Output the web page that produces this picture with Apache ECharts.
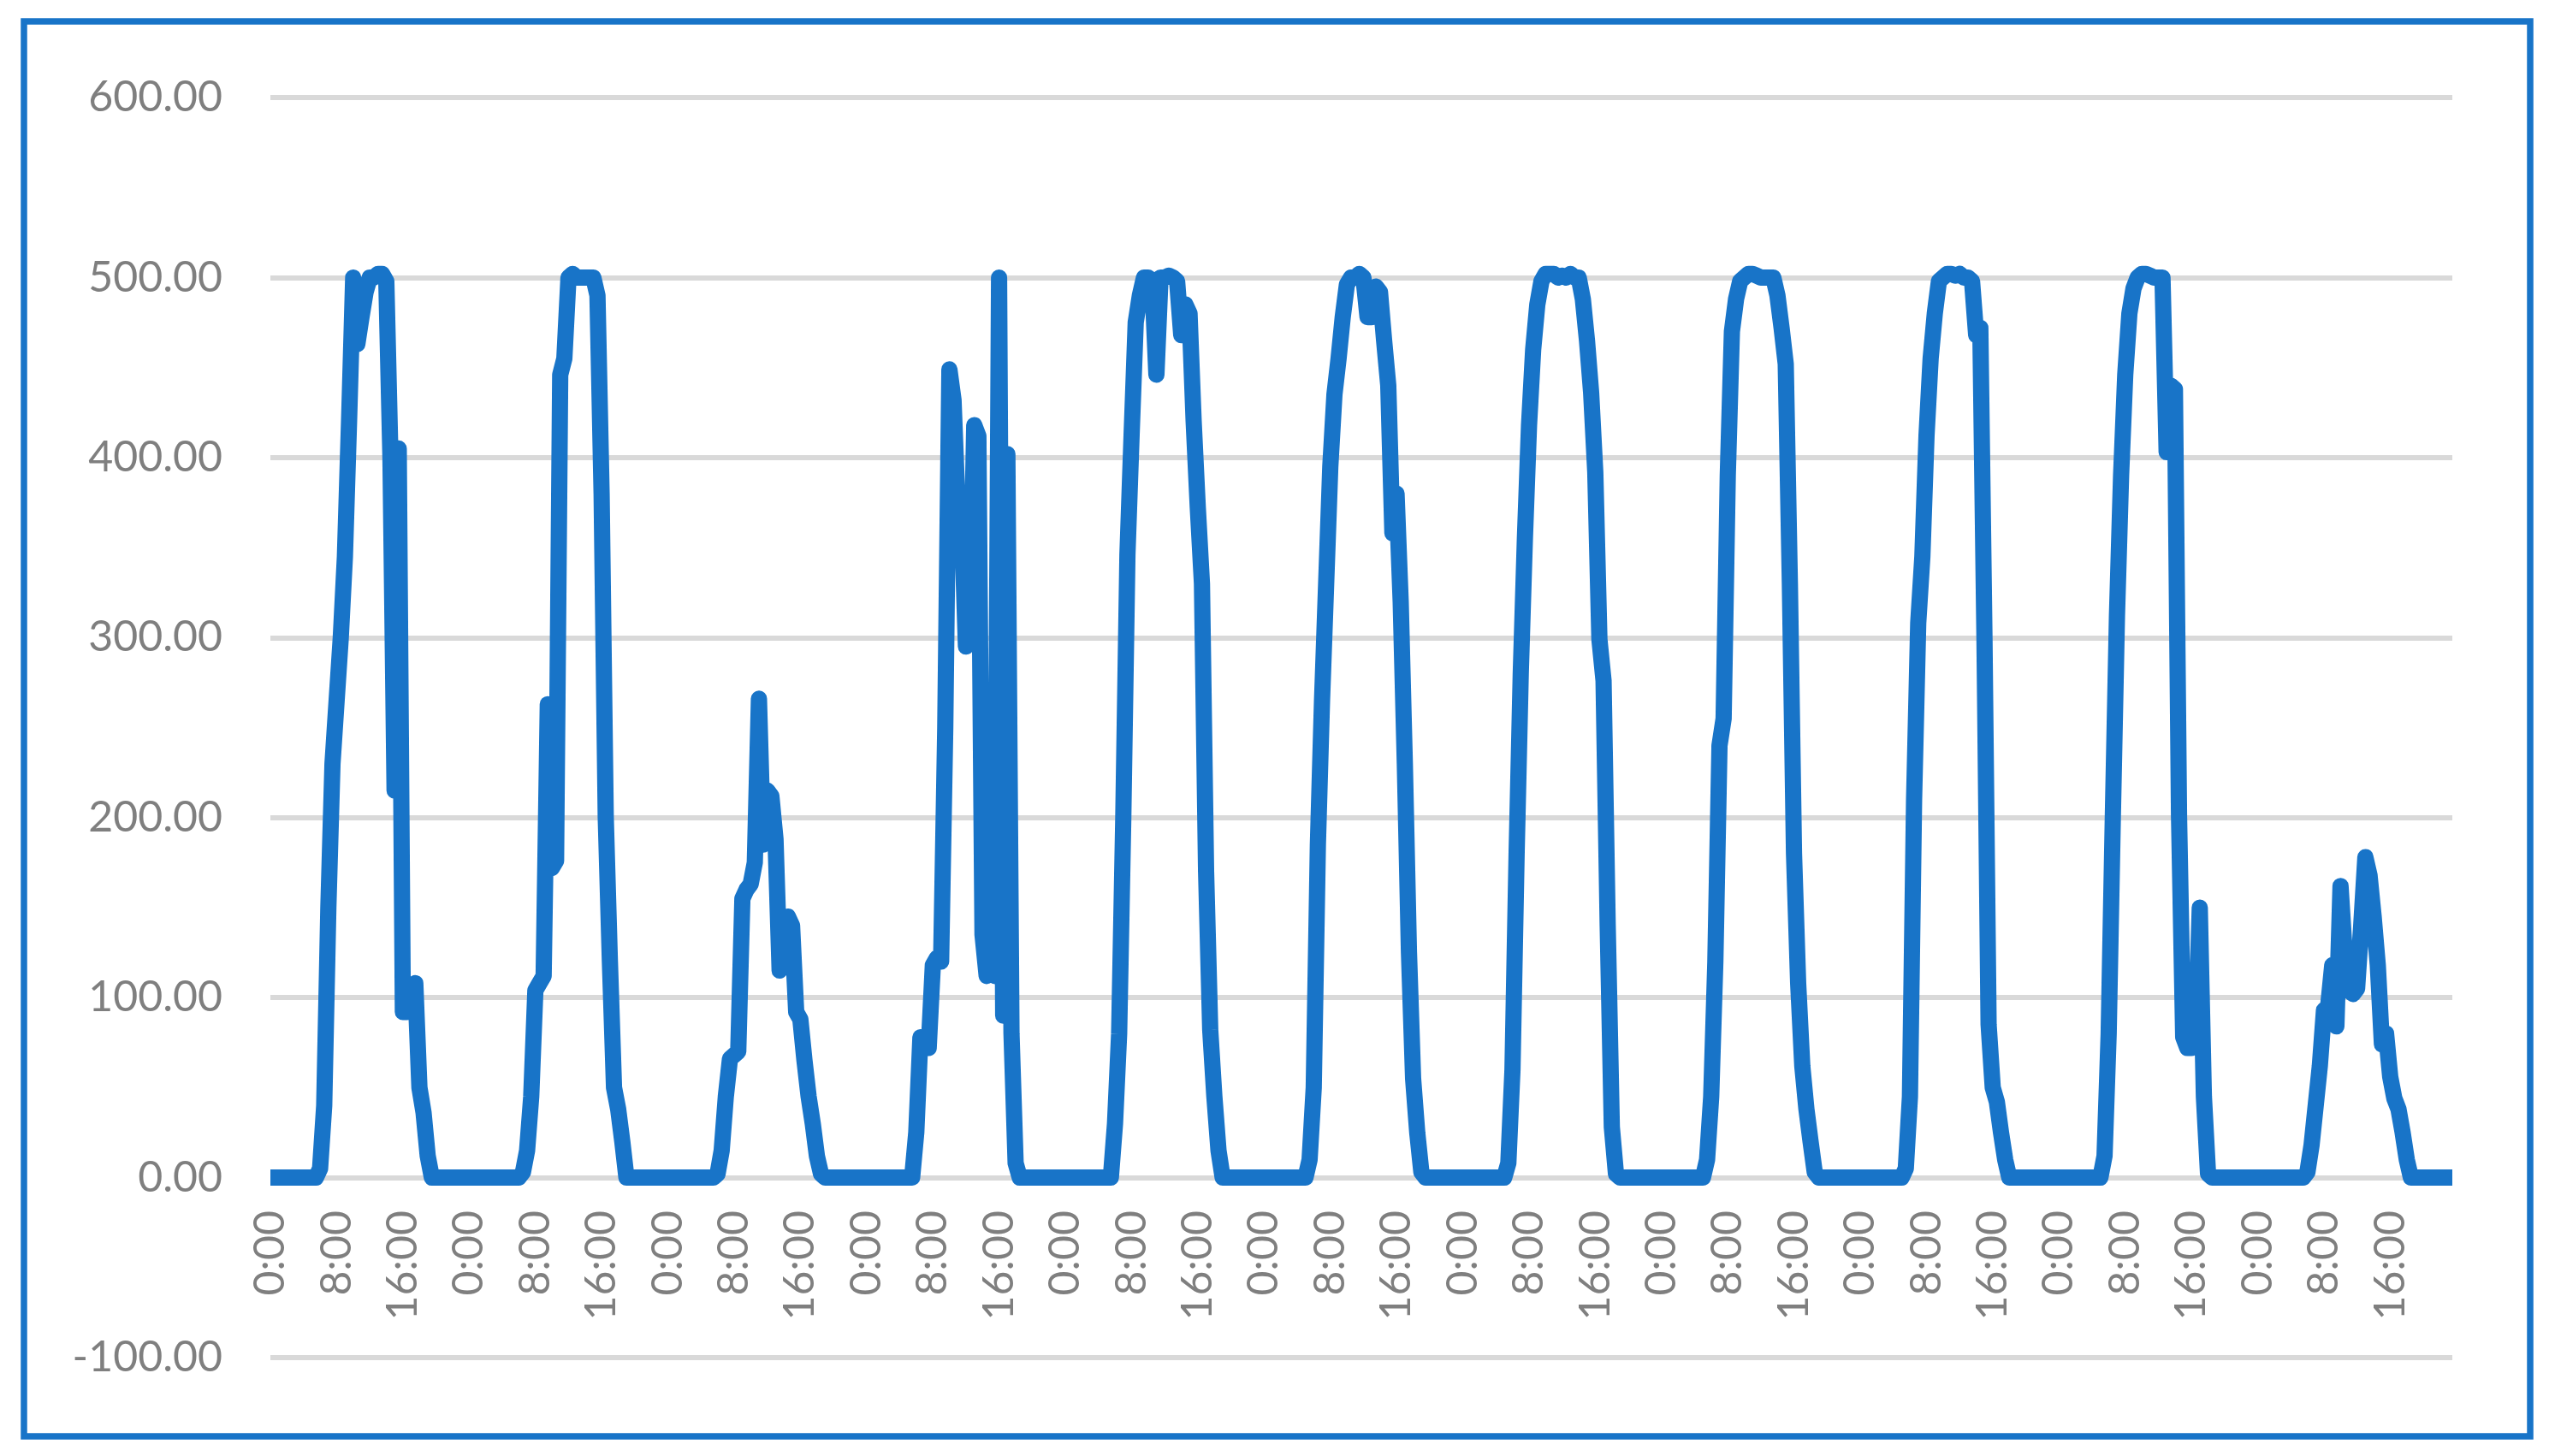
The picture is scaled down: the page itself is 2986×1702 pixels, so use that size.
<!DOCTYPE html>
<html><head><meta charset="utf-8">
<script src="https://cdn.jsdelivr.net/npm/echarts@6/dist/echarts.min.js"></script>
<style>html,body{margin:0;padding:0;background:#fff}#c{width:2986px;height:1702px}</style>
</head><body><div id="c"></div>
<script>
const timeLabels = ['0:00','0:30','1:00','1:30','2:00','2:30','3:00','3:30','4:00','4:30','5:00','5:30',
  '6:00','6:30','7:00','7:30','8:00','8:30','9:00','9:30','10:00','10:30','11:00','11:30',
  '12:00','12:30','13:00','13:30','14:00','14:30','15:00','15:30','16:00','16:30','17:00','17:30',
  '18:00','18:30','19:00','19:30','20:00','20:30','21:00','21:30','22:00','22:30','23:00','23:30'];

const day1 = [0,0,0,0,0,0,0,0,0,0,0,0, 5,40,150,230,265,300,345,420,500,463,478,492,500,500,502,502,498,400,215,405,92,92,100,108,50,36,12, 0,0,0,0,0,0,0,0,0];
const day2 = [0,0,0,0,0,0,0,0,0,0,0,0,0, 3,15,45,104,108,112,263,172,176,446,455,500,502,500,500,500,500,500,490,380,200,120,50,38,20,0, 0,0,0,0,0,0,0,0,0];
const day3 = [0,0,0,0,0,0,0,0,0,0,0,0, 2,15,45,66,68,70,155,160,163,175,266,185,215,212,188,115,118,145,140,92,88,65,45,30,12,2, 0,0,0,0,0,0,0,0,0,0];
const day4 = [0,0,0,0,0,0,0,0,0,0,0,0, 25,78,76,72,118,122,120,250,449,432,372,365,295,300,418,412,135,112,114,112,500,90,402,80,8, 0,0,0,0,0,0,0,0,0,0,0];
const day5 = [0,0,0,0,0,0,0,0,0,0,0,0, 30,80,200,346,412,475,490,500,500,498,446,500,500,501,500,498,468,485,480,420,372,330,170,82,45,15, 0,0,0,0,0,0,0,0,0,0];
const day6 = [0,0,0,0,0,0,0,0,0,0,0, 10,50,185,265,330,395,435,455,478,496,500,500,502,500,478,478,495,492,465,440,358,380,320,230,125,55,25,3, 0,0,0,0,0,0,0,0,0];
const day7 = [0,0,0,0,0,0,0,0,0,0,0, 8,60,180,280,355,418,460,485,498,502,502,502,500,501,500,502,500,500,488,465,436,392,299,276,140,28,2, 0,0,0,0,0,0,0,0,0,0];
const day8 = [0,0,0,0,0,0,0,0,0,0,0, 10,45,120,240,255,390,470,488,498,500,502,502,501,500,500,500,500,490,472,452,330,180,108,62,38,20,3, 0,0,0,0,0,0,0,0,0,0];
const day9 = [0,0,0,0,0,0,0,0,0,0,0, 5,45,210,308,345,412,455,480,498,500,502,502,501,502,500,500,498,468,472,300,85,50,42,25,10, 0,0,0,0,0,0,0,0,0,0,0,0];
const day10 = [0,0,0,0,0,0,0,0,0,0,0, 12,80,200,312,390,446,480,494,500,502,502,501,500,500,500,403,440,438,200,78,72,72,75,150,45,2, 0,0,0,0,0,0,0,0,0,0,0];
const day11 = [0,0,0,0,0,0,0,0,0,0,0,0, 3,18,40,62,93,95,118,84,162,125,104,102,105,140,178,168,145,118,74,80,56,44,38,25,10, 0,0,0,0,0,0,0,0,0,0,0];

const days = [day1, day2, day3, day4, day5, day6, day7, day8, day9, day10, day11];
const categories = [];
const values = [];
days.forEach(function (d) {
  d.forEach(function (v, i) { categories.push(timeLabels[i]); values.push(v); });
});

const BLUE = '#1874C8';
const chart = echarts.init(document.getElementById('c'), null, {renderer: 'canvas'});
chart.setOption({
  animation: false,
  backgroundColor: '#ffffff',
  grid: {left: 316, right: 120, top: 114, bottom: 115, containLabel: false},
  xAxis: {
    type: 'category', data: categories, boundaryGap: false,
    offset: -210,
    axisLine: {show: false, onZero: false},
    axisTick: {show: false},
    axisLabel: {interval: 15, rotate: 90, margin: 38, color: '#7f7f7f', fontFamily: 'Lato', fontSize: 50},
    splitLine: {show: false}
  },
  yAxis: {
    type: 'value', min: -100, max: 600, interval: 100,
    axisLine: {show: false}, axisTick: {show: false},
    axisLabel: {formatter: function (v) { return v.toFixed(2); }, margin: 56, color: '#7f7f7f', fontFamily: 'Lato', fontSize: 50},
    splitLine: {lineStyle: {color: '#d9d9d9', width: 6}}
  },
  series: [{
    type: 'line', data: values, showSymbol: false, symbol: 'none', sampling: null,
    lineStyle: {color: BLUE, width: 19, cap: 'butt', join: 'round'},
    itemStyle: {color: BLUE}
  }],
  graphic: [{
    type: 'rect', silent: true,
    shape: {x: 28, y: 25, width: 2929, height: 1654},
    style: {fill: null, stroke: BLUE, lineWidth: 7.5}
  }]
});
</script></body></html>
